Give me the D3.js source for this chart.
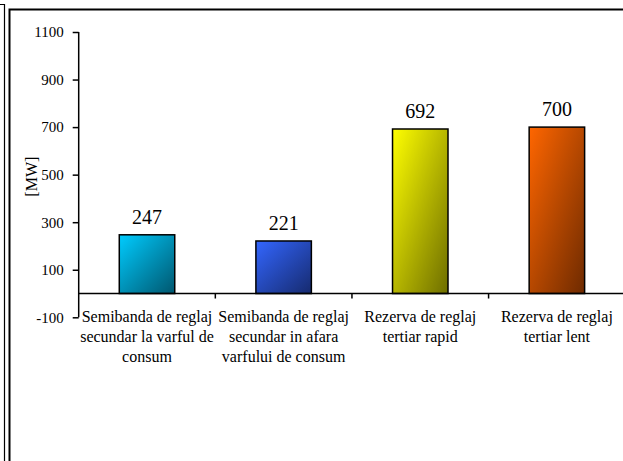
<!DOCTYPE html>
<html lang="en">
  <head>
    <meta charset="utf-8">
    <title>Rezerva de reglaj</title>
    <style>
      body { margin: 0; background: #fff; }
      svg { display: block; }
      text { font-family: "Liberation Serif", "Times New Roman", serif; fill: #000; }
    </style>
  </head>
  <body>
    <svg width="623" height="461"></svg>

    <script src="https://cdn.jsdelivr.net/npm/d3@7"></script>
    <script>

    // data
    var categories = [
      ["Semibanda de reglaj", "secundar la varful de", "consum"],
      ["Semibanda de reglaj", "secundar in afara", "varfului de consum"],
      ["Rezerva de reglaj", "tertiar rapid"],
      ["Rezerva de reglaj", "tertiar lent"]
    ];
    var values = [247, 221, 692, 700];
    var yTicks = [-100, 100, 300, 500, 700, 900, 1100];
    var colors = [
      ["#00ccff", "#00566e"],
      ["#3366ff", "#162a6e"],
      ["#ffff00", "#6e6e00"],
      ["#ff6600", "#6e2a00"]
    ];

    var svg = d3.select("svg");

    // frames round the chart
    svg.append("path")
        .attr("d", "M0,4.5H4.5V461")
        .attr("fill", "none")
        .attr("stroke", "#000")
        .attr("stroke-width", 1.2);
    svg.append("path")
        .attr("d", "M9.5,461V9.5H623")
        .attr("fill", "none")
        .attr("stroke", "#000")
        .attr("stroke-width", 2);

    var left = 78.7, right = 625.2;

    var keys = categories.map(function(d, i) { return "c" + i; });

    var x = d3.scaleBand()
        .domain(keys)
        .range([left, right])
        .paddingInner(0.594)
        .paddingOuter(0.297);

    var y = d3.scaleLinear()
        .domain([-100, 1100])
        .range([317.3, 32]);

    var defs = svg.append("defs");
    colors.forEach(function(c, i) {
      var g = defs.append("linearGradient")
          .attr("id", "grad" + i)
          .attr("x1", 0).attr("y1", 0)
          .attr("x2", 1).attr("y2", 1);
      g.append("stop").attr("offset", "0%").attr("stop-color", c[0]);
      g.append("stop").attr("offset", "100%").attr("stop-color", c[1]);
    });

    // y axis
    var yAxis = d3.axisLeft(y)
        .tickValues(yTicks)
        .tickSize(6)
        .tickPadding(9)
        .tickFormat(function(d) { return String(d); });

    var ga = svg.append("g")
        .attr("transform", "translate(" + left + ",0)")
        .call(yAxis);
    ga.select(".domain")
        .attr("d", "M0," + y(1100) + "V" + y(-100))
        .attr("stroke-width", 1.5);
    ga.selectAll(".tick line").attr("stroke-width", 1.5);
    ga.selectAll(".tick text")
        .style("font-family", "'Liberation Serif', serif")
        .style("font-size", "15px");

    svg.append("text")
        .attr("transform", "translate(37," + ((y(700) + y(300)) / 2 + 2) + ") rotate(-90)")
        .attr("text-anchor", "middle")
        .style("font-size", "16px")
        .text("[MW]");

    // bars
    svg.selectAll(".bar")
        .data(values)
      .enter().append("rect")
        .attr("class", "bar")
        .attr("x", function(d, i) { return x(keys[i]); })
        .attr("width", x.bandwidth())
        .attr("y", function(d) { return y(d); })
        .attr("height", function(d) { return y(0) - y(d); })
        .attr("fill", function(d, i) { return "url(#grad" + i + ")"; })
        .attr("stroke", "#000")
        .attr("stroke-width", 1.5);

    svg.selectAll(".val")
        .data(values)
      .enter().append("text")
        .attr("class", "val")
        .attr("x", function(d, i) { return x(keys[i]) + x.bandwidth() / 2; })
        .attr("y", function(d) { return y(d) - 11; })
        .attr("text-anchor", "middle")
        .style("font-size", "20px")
        .text(function(d) { return d; });

    // category axis on the zero line
    var step = x.step();
    svg.append("line")
        .attr("x1", left).attr("x2", right)
        .attr("y1", y(0)).attr("y2", y(0))
        .attr("stroke", "#000")
        .attr("stroke-width", 1.5);

    svg.selectAll(".ctick")
        .data(d3.range(1, keys.length + 1))
      .enter().append("line")
        .attr("class", "ctick")
        .attr("x1", function(i) { return left + i * step; })
        .attr("x2", function(i) { return left + i * step; })
        .attr("y1", y(0))
        .attr("y2", y(0) + 5)
        .attr("stroke", "#000")
        .attr("stroke-width", 1.5);

    var lab = svg.selectAll(".cat")
        .data(categories)
      .enter().append("text")
        .attr("class", "cat")
        .attr("text-anchor", "middle")
        .style("font-family", "'Liberation Serif', serif")
        .style("font-size", "16px")
        .attr("transform", function(d, i) {
          return "translate(" + (x(keys[i]) + x.bandwidth() / 2) + "," + (y(0) + 28) + ")";
        });

    lab.selectAll("tspan")
        .data(function(d) { return d; })
      .enter().append("tspan")
        .attr("x", 0)
        .attr("y", function(d, j) { return j * 20; })
        .text(function(d) { return d; });

    </script>
  </body>
</html>
